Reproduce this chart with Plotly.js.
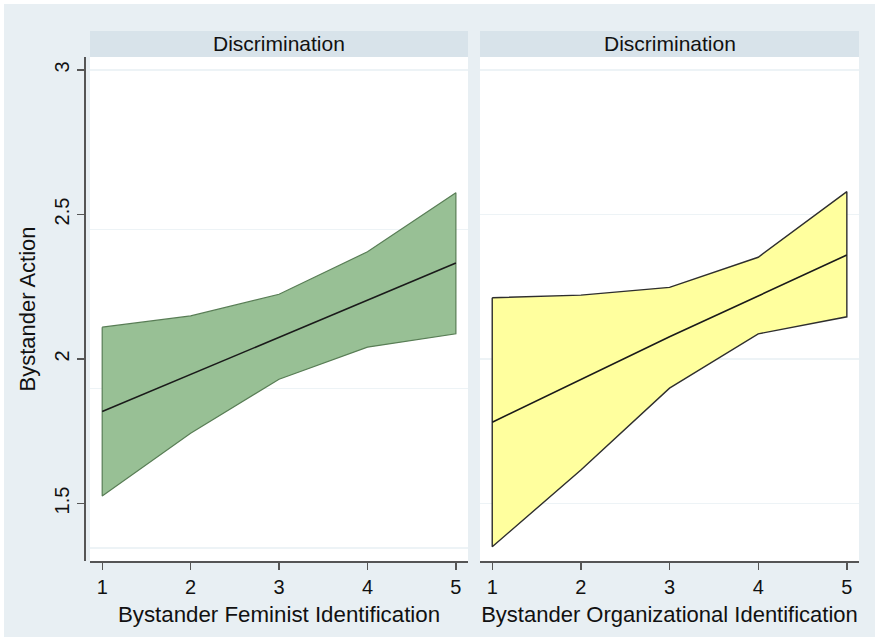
<!DOCTYPE html>
<html>
<head>
<meta charset="utf-8">
<script src="https://cdn.plot.ly/plotly-3.0.1.min.js"></script>
<style>
  html, body { margin: 0; padding: 0; background: #ffffff; }
  #bg { position: absolute; left: 4px; top: 4px; width: 871px; height: 633px; background: #e8eff3; }
  #plot { position: absolute; left: 0; top: 0; width: 879px; height: 640px; }
</style>
</head>
<body>
<div id="bg"></div>
<div id="plot"></div>
<script>
// ---- data ----
const xLevels = [1, 2, 3, 4, 5];
const yTickVals = [1.5, 2, 2.5, 3];
const yTickText = ['1.5', '2', '2.5', '3'];
const panelTitles = ['Discrimination', 'Discrimination'];
const xTitles = ['Bystander Feminist Identification', 'Bystander Organizational Identification'];
const yTitle = 'Bystander Action';

// Left panel: feminist identification
const femMid   = [1.818, 1.946, 2.076, 2.204, 2.332];
const femUpper = [2.110, 2.149, 2.224, 2.371, 2.575];
const femLower = [1.526, 1.743, 1.930, 2.041, 2.087];

// Right panel: organizational identification
const orgMid   = [1.781, 1.929, 2.077, 2.218, 2.360];
const orgUpper = [2.212, 2.221, 2.248, 2.352, 2.579];
const orgLower = [1.350, 1.616, 1.899, 2.087, 2.146];

// ---- helpers ----
function band(xs, up, lo) {
  return {
    x: xs.concat(xs.slice().reverse(), [xs[0]]),
    y: up.concat(lo.slice().reverse(), [up[0]])
  };
}

const W = 879, H = 640;
const px = v => v / W;
const py = v => 1 - v / H;

const fontFam = '"Liberation Sans", Arial, Helvetica, sans-serif';
const textCol = '#111111';
const axisCol = '#555555';
const gridCol = '#edf3f6';

const fb = band(xLevels, femUpper, femLower);
const ob = band(xLevels, orgUpper, orgLower);

const traces = [
  { x: [], y: [], xaxis: 'x', yaxis: 'y3', mode: 'none', showlegend: false, hoverinfo: 'skip' },
  { x: fb.x, y: fb.y, xaxis: 'x', yaxis: 'y', mode: 'lines', fill: 'toself',
    fillcolor: '#98c095', line: { color: '#587d55', width: 1.2 }, showlegend: false, hoverinfo: 'skip' },
  { x: xLevels, y: femMid, xaxis: 'x', yaxis: 'y', mode: 'lines',
    line: { color: '#1a1a1a', width: 1.6 }, showlegend: false },
  { x: ob.x, y: ob.y, xaxis: 'x2', yaxis: 'y2', mode: 'lines', fill: 'toself',
    fillcolor: '#ffff9e', line: { color: '#2e2e2e', width: 1.4 }, showlegend: false, hoverinfo: 'skip' },
  { x: xLevels, y: orgMid, xaxis: 'x2', yaxis: 'y2', mode: 'lines',
    line: { color: '#1a1a1a', width: 1.6 }, showlegend: false }
];

const yDom = [py(561), py(57)];
const yRange = [1.301, 3.045];
const xRange = [0.862, 5.137];

const xCommon = {
  range: xRange, tickvals: xLevels, ticktext: xLevels.map(String),
  showline: true, linecolor: axisCol, linewidth: 1.6, ticks: 'outside', ticklen: 7,
  tickwidth: 1.4, tickcolor: axisCol, showgrid: false, zeroline: false, fixedrange: true,
  tickfont: { family: fontFam, size: 20, color: textCol }
};

const layout = {
  width: W, height: H,
  margin: { l: 0, r: 0, t: 0, b: 0 },
  paper_bgcolor: 'rgba(0,0,0,0)',
  plot_bgcolor: '#ffffff',
  showlegend: false,
  xaxis: Object.assign({}, xCommon, {
    domain: [px(90), px(468)], anchor: 'y',
    title: { text: xTitles[0], font: { family: fontFam, size: 22.3, color: textCol }, standoff: 10 }
  }),
  xaxis2: Object.assign({}, xCommon, {
    domain: [px(480), px(859)], anchor: 'y2',
    title: { text: xTitles[1], font: { family: fontFam, size: 22, color: textCol }, standoff: 10 }
  }),
  yaxis: {
    domain: yDom, range: yRange, anchor: 'free', position: px(84),
    tickvals: yTickVals, ticktext: yTickText, tickangle: -90,
    showline: true, linecolor: axisCol, linewidth: 1.6, ticks: 'outside', ticklen: 7,
    tickwidth: 1.4, tickcolor: axisCol, showgrid: false, zeroline: false, fixedrange: true,
    tickfont: { family: fontFam, size: 20, color: textCol },
    title: { text: yTitle, font: { family: fontFam, size: 22, color: textCol }, standoff: 8 }
  },
  yaxis3: {
    domain: yDom, range: [1.4594, 3.041], overlaying: 'y', anchor: 'x',
    tickvals: yTickVals, showticklabels: false, ticks: '', showline: false,
    showgrid: true, gridcolor: gridCol, gridwidth: 1.2, zeroline: false, fixedrange: true
  },
  yaxis2: {
    domain: yDom, range: yRange, anchor: 'x2',
    tickvals: yTickVals, showticklabels: false, ticks: '', showline: false,
    showgrid: true, gridcolor: gridCol, gridwidth: 1.2, zeroline: false, fixedrange: true
  },
  shapes: [
    { type: 'rect', xref: 'x domain', yref: 'paper', x0: 0, x1: 1, y0: py(57), y1: py(31),
      fillcolor: '#d8e3ea', line: { width: 0 }, layer: 'below' },
    { type: 'rect', xref: 'x2 domain', yref: 'paper', x0: 0, x1: 1, y0: py(57), y1: py(31),
      fillcolor: '#d8e3ea', line: { width: 0 }, layer: 'below' }
  ],
  annotations: [
    { xref: 'x domain', yref: 'paper', x: 0.5, y: py(44), text: panelTitles[0], showarrow: false,
      xanchor: 'center', yanchor: 'middle', font: { family: fontFam, size: 21, color: textCol } },
    { xref: 'x2 domain', yref: 'paper', x: 0.5, y: py(44), text: panelTitles[1], showarrow: false,
      xanchor: 'center', yanchor: 'middle', font: { family: fontFam, size: 21, color: textCol } }
  ]
};

Plotly.newPlot('plot', traces, layout, { displayModeBar: false, staticPlot: true });
</script>
</body>
</html>
